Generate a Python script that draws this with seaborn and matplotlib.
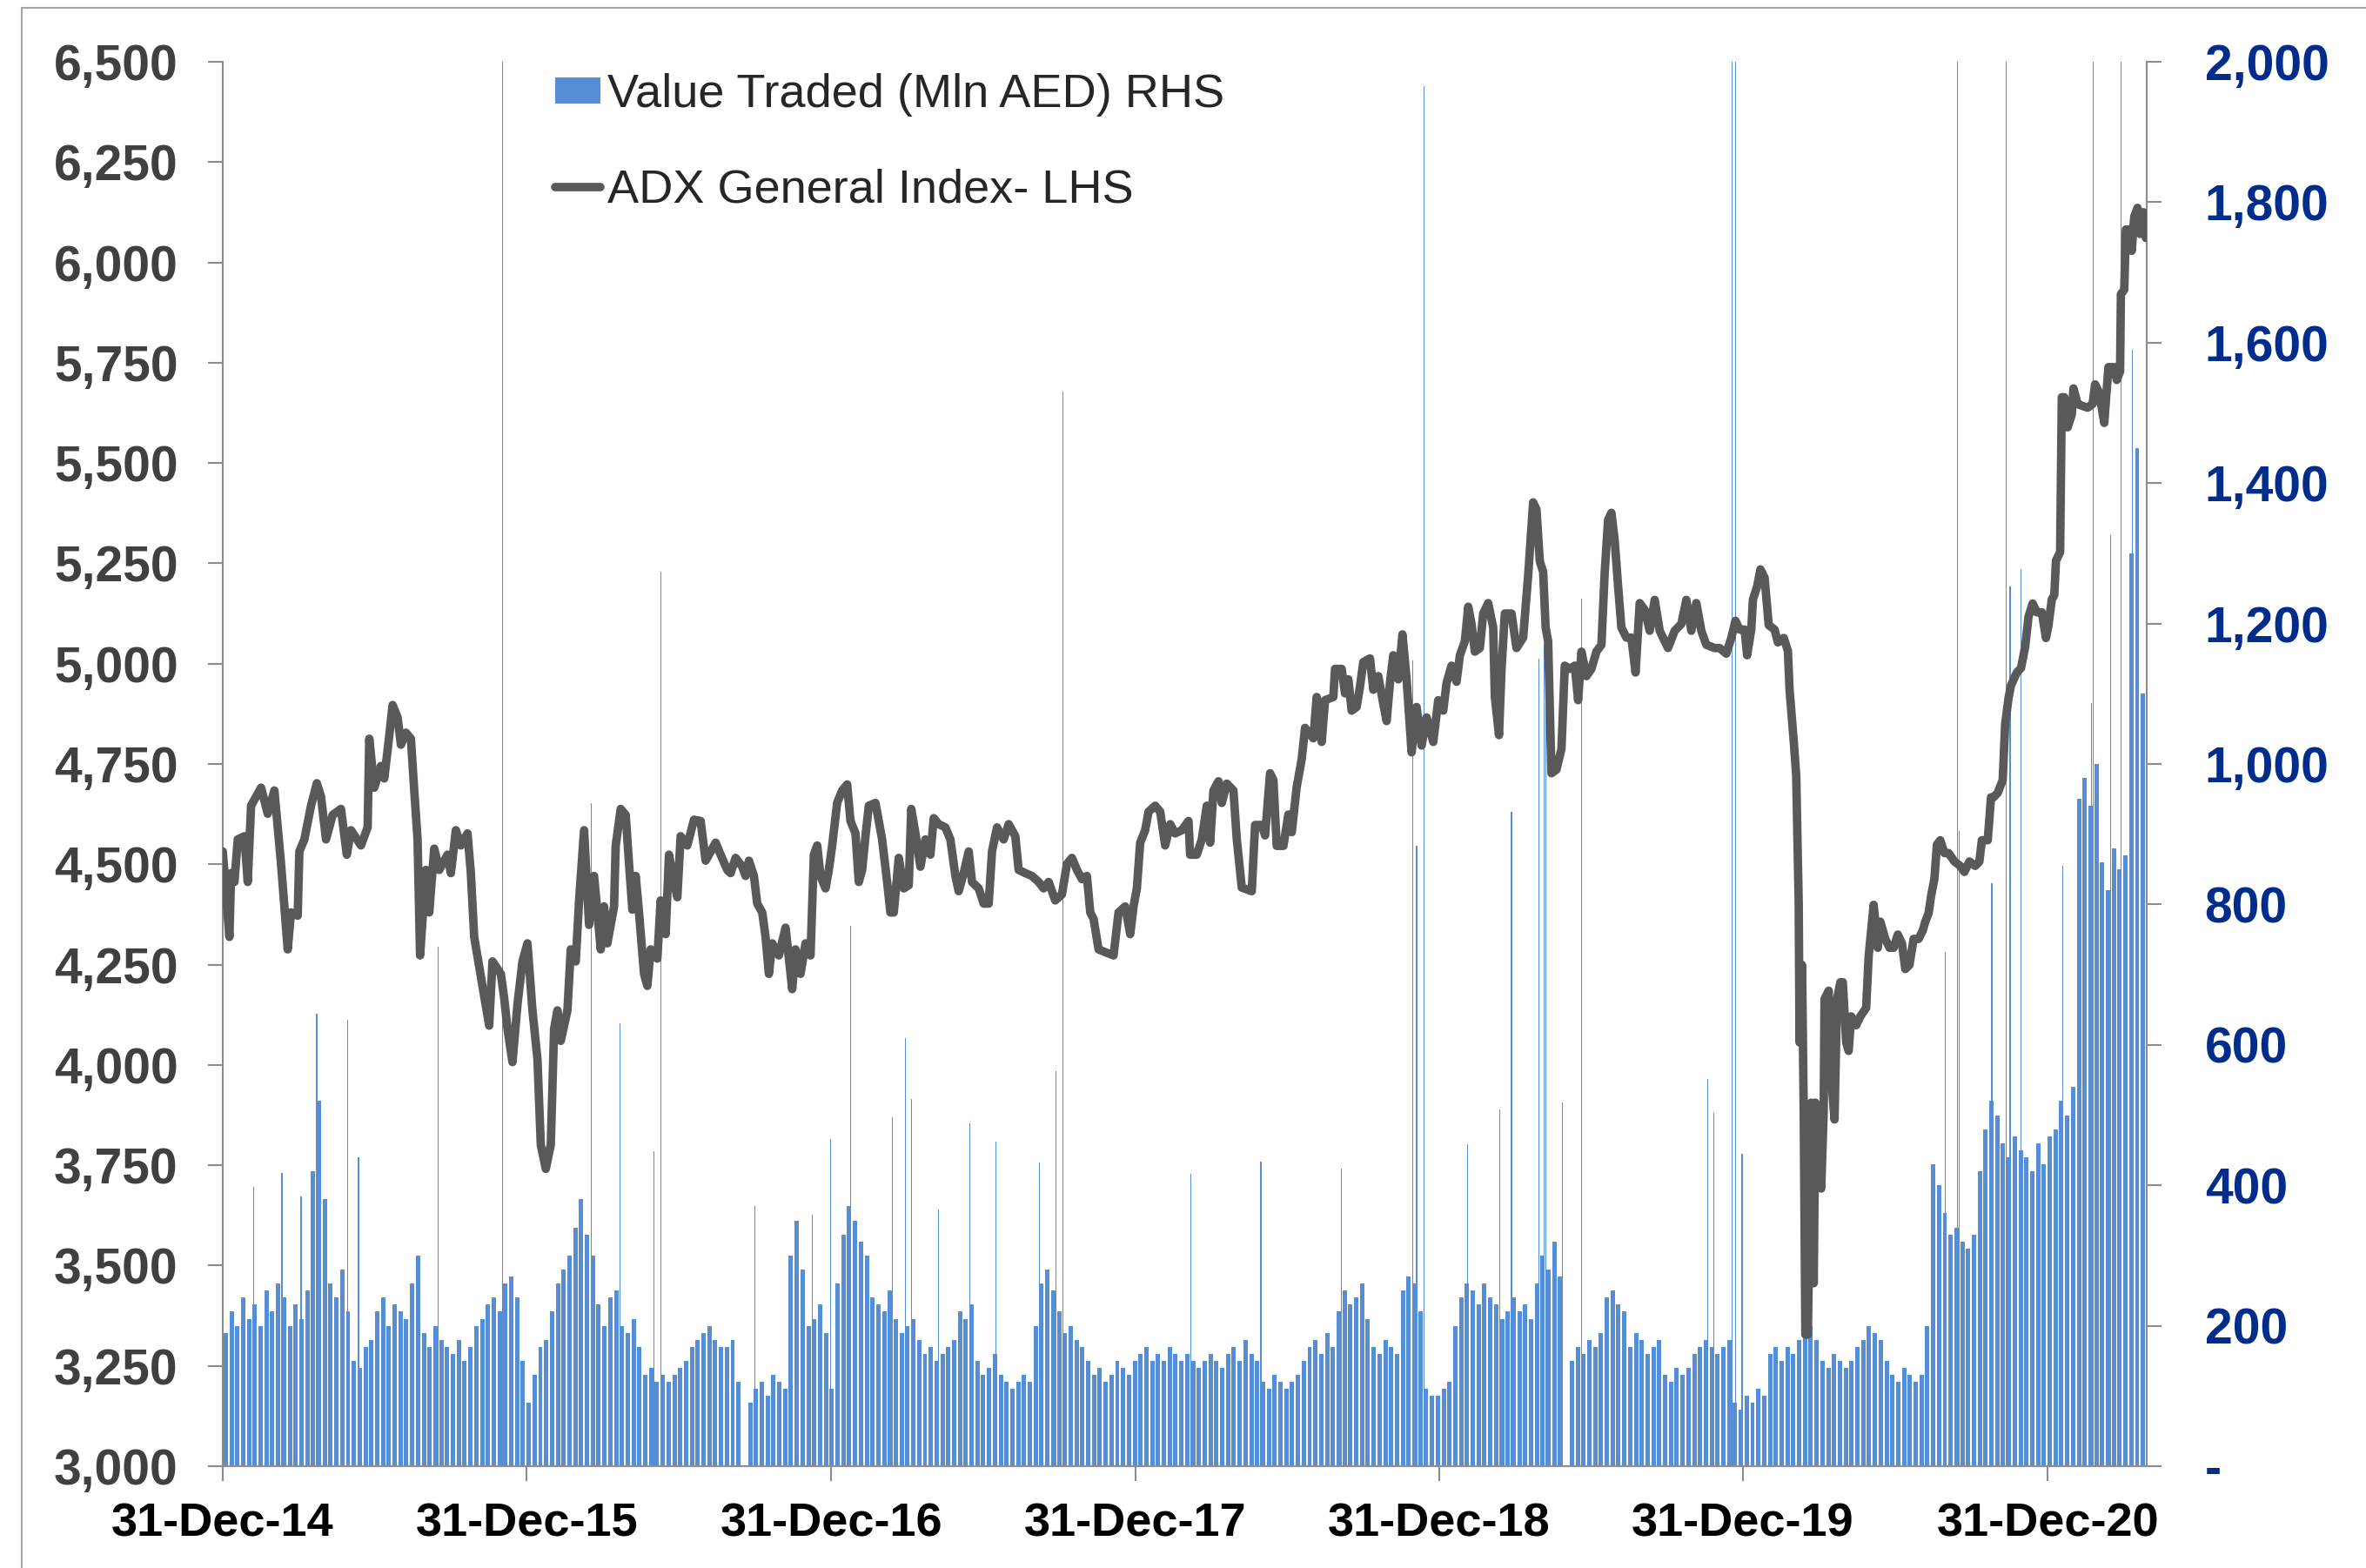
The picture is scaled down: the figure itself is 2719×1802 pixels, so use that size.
import matplotlib
matplotlib.use('Agg')
import matplotlib.pyplot as plt
import matplotlib.dates as mdates
from matplotlib.lines import Line2D
import seaborn as sns
import pandas as pd
import numpy as np

START = pd.Timestamp('2014-12-31')

# ADX General Index (LHS): days after 31-Dec-14, index level
index_day = [0, 8, 10, 14, 18, 26, 30, 34, 46, 54, 62, 66, 70, 78, 82, 90, 92, 98, 106, 113,
             118, 124, 132, 142, 149, 154, 166, 174, 176, 182, 190, 194, 200, 204, 210, 214, 220, 226, 230, 234,
             237, 244, 248, 254, 260, 270, 274, 280, 286, 294, 298, 302, 312, 320, 324, 334, 338, 342, 348, 354,
             360, 366, 372, 378, 382, 388, 394, 398, 402, 406, 414, 418, 424, 428, 434, 440, 446, 454, 458, 462,
             470, 472, 478, 484, 488, 492, 496, 500, 506, 510, 514, 522, 526, 532, 536, 542, 546, 550, 558, 566,
             574, 580, 592, 598, 606, 610, 616, 624, 628, 632, 638, 642, 648, 652, 656, 660, 668, 676, 684, 688,
             694, 700, 706, 710, 714, 718, 724, 728, 732, 738, 744, 750, 754, 760, 764, 768, 772, 776, 784, 792,
             798, 802, 806, 812, 818, 824, 827, 832, 838, 844, 850, 854, 860, 868, 874, 880, 884, 890, 896, 900,
             908, 914, 920, 924, 930, 938, 944, 952, 956, 964, 972, 980, 986, 992, 1000, 1008, 1014, 1020, 1026, 1032,
             1038, 1042, 1046, 1052, 1060, 1070, 1076, 1084, 1090, 1094, 1098, 1102, 1108, 1112, 1120, 1126, 1132, 1138, 1144, 1152,
             1160, 1162, 1170, 1176, 1182, 1186, 1190, 1196, 1200, 1206, 1214, 1218, 1224, 1236, 1240, 1248, 1252, 1258, 1262, 1266,
             1274, 1280, 1284, 1290, 1296, 1300, 1310, 1314, 1320, 1324, 1334, 1336, 1344, 1348, 1352, 1356, 1362, 1366, 1370, 1378,
             1382, 1388, 1394, 1398, 1402, 1406, 1412, 1417, 1422, 1428, 1434, 1440, 1446, 1454, 1460, 1466, 1470, 1476, 1482, 1486,
             1492, 1496, 1500, 1504, 1510, 1514, 1520, 1526, 1528, 1533, 1536, 1540, 1548, 1554, 1562, 1568, 1574, 1578, 1582, 1586,
             1589, 1592, 1596, 1602, 1608, 1612, 1618, 1624, 1628, 1632, 1638, 1644, 1650, 1656, 1660, 1664, 1668, 1672, 1676, 1680,
             1686, 1692, 1697, 1702, 1708, 1714, 1720, 1726, 1736, 1744, 1752, 1758, 1764, 1770, 1776, 1782, 1792, 1798, 1806, 1812,
             1817, 1822, 1828, 1831, 1836, 1838, 1843, 1847, 1852, 1857, 1864, 1868, 1875, 1880, 1882, 1887, 1890, 1893, 1894, 1897,
             1899, 1901, 1904, 1908, 1911, 1913, 1916, 1920, 1923, 1924, 1929, 1932, 1936, 1939, 1943, 1946, 1950, 1953, 1956, 1962,
             1967, 1974, 1977, 1983, 1988, 1991, 1997, 2002, 2007, 2012, 2017, 2021, 2026, 2031, 2037, 2042, 2045, 2049, 2052, 2056,
             2059, 2063, 2068, 2073, 2080, 2087, 2092, 2098, 2105, 2110, 2113, 2120, 2124, 2127, 2132, 2138, 2141, 2145, 2148, 2155,
             2160, 2165, 2169, 2174, 2179, 2185, 2190, 2193, 2197, 2200, 2202, 2207, 2209, 2212, 2216, 2221, 2223, 2228, 2233, 2240,
             2246, 2249, 2254, 2260, 2265, 2272, 2275, 2279, 2280, 2284, 2286, 2291, 2293, 2296, 2300, 2303, 2307, 2310]
index_level = [4532, 4319, 4478, 4456, 4562, 4570, 4456, 4646, 4691, 4626, 4684, 4592, 4501, 4288, 4380, 4372, 4532, 4562, 4646, 4702,
               4669, 4562, 4623, 4638, 4524, 4585, 4547, 4592, 4813, 4691, 4745, 4714, 4821, 4897, 4866, 4798, 4828, 4813, 4684, 4562,
               4273, 4486, 4380, 4539, 4486, 4524, 4478, 4585, 4547, 4577, 4478, 4319, 4197, 4098, 4258, 4227, 4167, 4090, 4007, 4151,
               4258, 4303, 4136, 4014, 3801, 3741, 3801, 4090, 4136, 4060, 4136, 4288, 4258, 4410, 4585, 4349, 4471, 4288, 4395, 4303,
               4395, 4547, 4638, 4623, 4501, 4387, 4471, 4380, 4227, 4197, 4288, 4265, 4410, 4326, 4524, 4456, 4418, 4570, 4547, 4611,
               4608, 4509, 4554, 4524, 4486, 4478, 4516, 4494, 4471, 4509, 4471, 4402, 4380, 4319, 4227, 4303, 4273, 4342, 4189, 4288,
               4227, 4303, 4273, 4524, 4547, 4471, 4440, 4486, 4547, 4653, 4684, 4699, 4608, 4577, 4456, 4486, 4570, 4646, 4653, 4562,
               4456, 4380, 4380, 4516, 4440, 4448, 4638, 4577, 4494, 4562, 4524, 4615, 4600, 4592, 4562, 4471, 4433, 4478, 4532, 4456,
               4440, 4402, 4402, 4532, 4592, 4562, 4600, 4570, 4486, 4478, 4471, 4456, 4440, 4456, 4410, 4425, 4501, 4516, 4486, 4463,
               4471, 4380, 4364, 4288, 4281, 4273, 4380, 4395, 4326, 4395, 4440, 4554, 4585, 4631, 4646, 4631, 4547, 4600, 4577, 4585,
               4608, 4524, 4524, 4562, 4646, 4554, 4684, 4707, 4653, 4701, 4684, 4563, 4442, 4433, 4598, 4598, 4572, 4727, 4710, 4546,
               4546, 4624, 4580, 4693, 4762, 4840, 4814, 4917, 4805, 4909, 4917, 4987, 4987, 4926, 4961, 4883, 4892, 4943, 5004, 5013,
               4935, 4969, 4900, 4857, 4952, 5021, 4961, 5073, 4961, 4779, 4892, 4796, 4866, 4805, 4909, 4883, 4952, 4995, 4955, 5021,
               5056, 5142, 5099, 5030, 5039, 5125, 5151, 5090, 4917, 4822, 4987, 5125, 5125, 5039, 5065, 5220, 5402, 5384, 5255, 5229,
               5090, 5056, 4727, 4736, 4788, 4995, 4987, 4995, 4909, 5030, 4969, 4987, 5030, 5047, 5229, 5358, 5376, 5306, 5194, 5090,
               5065, 5065, 4978, 5151, 5134, 5082, 5159, 5082, 5039, 5082, 5099, 5159, 5082, 5151, 5082, 5047, 5039, 5039, 5025, 5064,
               5107, 5085, 5085, 5021, 5085, 5160, 5192, 5235, 5214, 5096, 5085, 5053, 5064, 5032, 4935, 4807, 4721, 4399, 4056, 4249,
               3885, 3328, 3328, 3906, 3456, 3906, 3735, 3692, 3885, 4164, 4185, 3971, 3864, 4164, 4206, 4206, 4056, 4035, 4121, 4099,
               4121, 4142, 4271, 4399, 4292, 4357, 4314, 4292, 4292, 4325, 4303, 4239, 4249, 4314, 4314, 4335, 4357, 4378, 4421, 4464,
               4549, 4560, 4528, 4528, 4507, 4496, 4481, 4507, 4496, 4507, 4560, 4560, 4667, 4667, 4678, 4710, 4850, 4914, 4946, 4978,
               4989, 5042, 5117, 5150, 5128, 5128, 5064, 5096, 5160, 5171, 5257, 5278, 5664, 5664, 5589, 5621, 5686, 5647, 5643, 5638,
               5647, 5696, 5675, 5600, 5739, 5739, 5707, 5728, 5921, 5932, 6082, 6082, 6029, 6114, 6136, 6071, 6125, 6061]

# Value traded (Mln AED, RHS), typical level per week starting 1-Jan-15
value_traded_weekly = [190, 220, 200, 240, 210, 230, 200, 250, 220, 260, 240, 200, 230, 210, 250, 420, 520, 380, 260, 240,
                       280, 220, 150, 140, 170, 180, 220, 240, 200, 230, 220, 210, 260, 300, 190, 170, 200, 180, 170, 160,
                       180, 150, 170, 200, 210, 230, 240, 220, 260, 270, 240, 150, 90, 130, 170, 180, 220, 260, 280, 300,
                       340, 380, 330, 300, 230, 200, 240, 250, 200, 190, 210, 170, 130, 140, 120, 130, 120, 130, 140, 150,
                       170, 180, 190, 200, 180, 170, 170, 180, 120, 0, 90, 110, 120, 100, 130, 120, 110, 300, 350, 280,
                       200, 210, 230, 190, 110, 260, 330, 370, 350, 320, 300, 240, 230, 220, 250, 210, 190, 200, 210, 180,
                       160, 170, 150, 160, 170, 180, 220, 210, 230, 150, 130, 140, 160, 130, 120, 110, 120, 130, 120, 200,
                       260, 280, 250, 220, 190, 200, 180, 170, 150, 130, 140, 120, 130, 150, 140, 130, 150, 160, 170, 150,
                       160, 150, 170, 160, 150, 160, 150, 140, 150, 160, 150, 140, 160, 170, 150, 180, 160, 150, 120, 110,
                       130, 120, 110, 120, 130, 150, 170, 180, 160, 190, 170, 220, 250, 230, 240, 260, 210, 170, 160, 180,
                       170, 160, 250, 270, 260, 220, 110, 100, 100, 110, 120, 200, 240, 260, 250, 230, 260, 240, 230, 210,
                       220, 240, 220, 230, 210, 260, 300, 280, 320, 270, 0, 150, 170, 160, 180, 170, 190, 240, 250, 230,
                       220, 170, 190, 180, 160, 170, 180, 130, 120, 140, 130, 140, 160, 170, 180, 170, 160, 170, 180, 90,
                       80, 100, 90, 110, 100, 160, 170, 150, 170, 160, 180, 190, 200, 180, 150, 140, 160, 150, 140, 150,
                       170, 180, 200, 190, 180, 150, 130, 120, 140, 130, 120, 130, 200, 430, 400, 360, 330, 340, 320, 310,
                       330, 420, 480, 520, 500, 460, 440, 470, 450, 440, 420, 460, 430, 470, 480, 520, 500, 540, 950, 980,
                       940, 1000, 860, 820, 880, 850, 870, 1300, 1450, 1100]

# single trading days that stand out above the bulk (values above 2,000 run off the top)
spike_day = [37, 71, 94, 113, 150, 163, 259, 336, 443, 477, 518, 526, 639, 708, 730, 754, 804, 820, 827, 860,
             897, 929, 981, 1001, 1009, 1163, 1247, 1344, 1429, 1434, 1443, 1495, 1534, 1548, 1581, 1587, 1589, 1609, 1632, 1784,
             1791, 1813, 1817, 1825, 2069, 2084, 2086, 2125, 2142, 2147, 2160, 2210, 2245, 2247, 2268, 2280, 2294]
spike_value = [398, 418, 384, 644, 636, 440, 740, 2100, 944, 631, 449, 1274, 371, 358, 466, 770, 497, 610, 523, 366,
               488, 462, 432, 562, 1530, 416, 434, 424, 1147, 883, 1965, 458, 508, 932, 1150, 1171, 1127, 518, 1235, 552,
               503, 2100, 2100, 445, 732, 2100, 904, 830, 2100, 1253, 1277, 855, 1087, 2100, 1326, 2100, 1590]

x_tick_dates = ['2014-12-31', '2015-12-31', '2016-12-31', '2017-12-31', '2018-12-31', '2019-12-31', '2020-12-31']
lhs_ticks = list(range(3000, 6501, 250))
rhs_ticks = list(range(0, 2001, 200))

BAR_BLUE = '#558ED5'
LINE_GREY = '#595959'
AXIS_GREY = '#8C8C8C'
RHS_BLUE = '#002D8C'

sns.set_theme(style='white')
plt.rcParams['font.family'] = ['Liberation Sans', 'DejaVu Sans']

start_num = mdates.date2num(START)
week_x = start_num + np.arange(len(value_traded_weekly)) * 7 + 3.5
spike_x = start_num + np.array(spike_day)
line_df = pd.DataFrame({'x': start_num + np.array(index_day), 'level': index_level})

fig = plt.figure(figsize=(27.19, 18.02), dpi=100)
ax = fig.add_axes([256 / 2719, 1 - 1685 / 1802, (2467 - 256) / 2719, (1685 - 71) / 1802])
ax_line = ax.twinx()

# value traded bars (right axis)
ax.bar(week_x, value_traded_weekly, width=5.2, color=BAR_BLUE, linewidth=0, label='Value Traded (Mln AED) RHS')
ax.bar(spike_x, spike_value, width=1.3, color=BAR_BLUE, linewidth=0)
ax.set_ylim(0, 2000)
ax.set_xlim(start_num, start_num + 2311)

# index line (left axis)
sns.lineplot(data=line_df, x='x', y='level', ax=ax_line, color=LINE_GREY,
             label='ADX General Index- LHS', legend=False, sort=False, estimator=None)
idx_line = ax_line.lines[0]
idx_line.set_linewidth(7)
idx_line.set_solid_joinstyle('round')
idx_line.set_solid_capstyle('round')
ax_line.set_ylim(3000, 6500)
ax_line.set_xlim(start_num, start_num + 2311)

# axis sides: index on the left, value traded on the right
ax.yaxis.tick_right()
ax_line.yaxis.tick_left()
ax.set_ylabel('')
ax_line.set_ylabel('')
ax.set_xlabel('')
ax_line.set_xlabel('')

ax.set_yticks(rhs_ticks)
ax.set_yticklabels(['-' if v == 0 else f'{v:,}' for v in rhs_ticks], fontweight='bold')
ax_line.set_yticks(lhs_ticks)
ax_line.set_yticklabels([f'{v:,}' for v in lhs_ticks], fontweight='bold')

xt = [mdates.date2num(pd.Timestamp(d)) for d in x_tick_dates]
ax.set_xticks(xt)
ax.set_xticklabels([pd.Timestamp(d).strftime('%d-%b-%y') for d in x_tick_dates], fontweight='bold')

ax.tick_params(axis='y', right=True, left=False, labelright=True, labelleft=False, labelsize=41,
               labelcolor=RHS_BLUE, length=12, width=1.5, color=AXIS_GREY, pad=36, direction='out')
ax_line.tick_params(axis='y', left=True, right=False, labelleft=True, labelright=False, labelsize=41,
                    labelcolor='#404040', length=12, width=1.5, color=AXIS_GREY, pad=25, direction='out')
ax.tick_params(axis='x', bottom=True, labelsize=39, labelcolor='black', length=12, width=1.5,
               color=AXIS_GREY, pad=18, direction='out')
ax_line.tick_params(axis='x', bottom=False, labelbottom=False)

for side in ['left', 'right', 'bottom']:
    ax.spines[side].set_visible(True)
    ax.spines[side].set_color(AXIS_GREY)
    ax.spines[side].set_linewidth(1.5)
ax.spines['top'].set_visible(False)
for side in ax_line.spines:
    ax_line.spines[side].set_visible(False)
ax.grid(False)
ax_line.grid(False)

h1, l1 = ax.get_legend_handles_labels()
h2, l2 = ax_line.get_legend_handles_labels()
ax_line.legend(h1 + h2, l1 + l2, loc='upper left', bbox_to_anchor=(0.1726, 0.992), frameon=False,
               fontsize=39, handlelength=0.96, handleheight=0.48, handletextpad=0.15,
               labelspacing=1.1, borderpad=0, borderaxespad=0)

# outer chart-area border (top and left edges)
fig.add_artist(Line2D([25 / 2719, 1], [1 - 9 / 1802, 1 - 9 / 1802], color='#A6A6A6', lw=1.5,
                      transform=fig.transFigure))
fig.add_artist(Line2D([25 / 2719, 25 / 2719], [0, 1 - 9 / 1802], color='#A6A6A6', lw=1.5,
                      transform=fig.transFigure))

fig.savefig('out.png', dpi=100, facecolor='white')
